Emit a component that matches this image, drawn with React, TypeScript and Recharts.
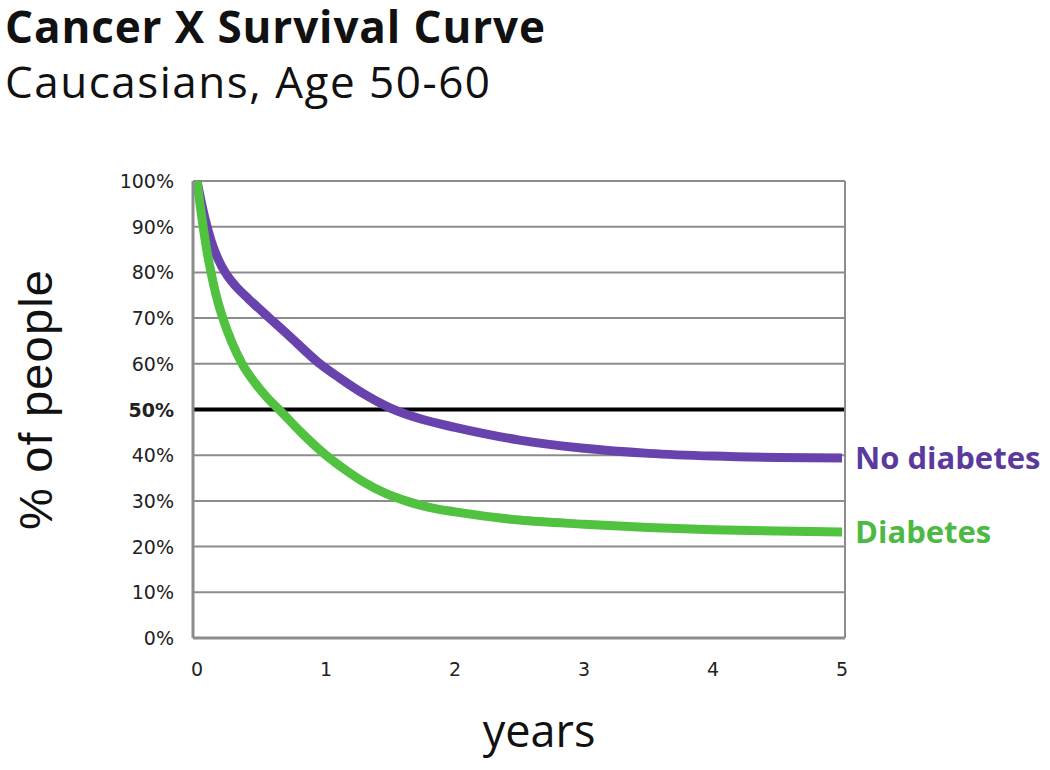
import { LineChart, Line, XAxis, YAxis, CartesianGrid } from 'recharts'

// survival, % of people still alive at t years
const noDiabetesYears = [0, 0.03, 0.06, 0.09, 0.12, 0.15, 0.19, 0.24, 0.3, 0.4, 0.55, 0.7, 0.94, 1.1, 1.3, 1.5, 1.75, 2, 2.5, 3, 3.5, 4, 4.5, 5]
const noDiabetesPct = [100, 95.8, 92, 88.8, 86, 83.8, 81.4, 79.1, 77, 74.2, 70.3, 66.5, 60.3, 57, 53.3, 50.3, 47.8, 46.1, 43.3, 41.5, 40.4, 39.8, 39.5, 39.4]
const diabetesYears = [0, 0.025, 0.05, 0.08, 0.11, 0.15, 0.2, 0.27, 0.35, 0.45, 0.55, 0.65, 0.8, 1, 1.15, 1.3, 1.45, 1.63, 1.8, 2, 2.5, 3, 3.5, 4, 4.5, 5]
const diabetesPct = [100, 94.5, 89.5, 84.2, 79.8, 74.8, 70, 64.7, 60, 55.8, 52.4, 49.6, 45.2, 40, 36.8, 34, 31.8, 29.9, 28.6, 27.6, 25.8, 24.9, 24.2, 23.7, 23.4, 23.2]
const xTicks = [0, 1, 2, 3, 4, 5]
const yTicks = [0, 10, 20, 30, 40, 50, 60, 70, 80, 90, 100]
const HALF = 50

const PURPLE = '#6843ad'
const GREEN = '#51c140'
const PURPLE_TEXT = '#5b3a9e'
const GREEN_TEXT = '#4cb944'

const noDiabetesData = noDiabetesYears.map((t, i) => ({ t, pct: noDiabetesPct[i] }))
const diabetesData = diabetesYears.map((t, i) => ({ t, pct: diabetesPct[i] }))

const YTick = ({ x, y, payload }: any) => (
  <text
    x={x}
    y={y}
    dy={7}
    textAnchor="end"
    fontFamily="DejaVu Sans"
    fontSize={19}
    fontWeight={payload.value === HALF ? 'bold' : 'normal'}
    fill="#222"
  >
    {payload.value}%
  </text>
)

const XTick = ({ x, y, payload }: any) => (
  <text x={x} y={y} dy={18} textAnchor="middle" fontFamily="DejaVu Sans" fontSize={19} fill="#222">
    {payload.value}
  </text>
)

const endLabel = (text: string, color: string, lastIndex: number) => (props: any) => {
  if (props.index !== lastIndex) return null
  return (
    <text x={props.x + 13} y={props.y} dy={11} fontFamily="Open Sans" fontWeight="bold" fontSize={31} fill={color}>
      {text}
    </text>
  )
}

// grid row at 50% is the heavy black line
const gridRow = (p: any) => {
  const isHalf = p.index === yTicks.indexOf(HALF)
  return (
    <line
      key={`row-${p.index}`}
      x1={p.x1}
      y1={p.y1}
      x2={p.x2}
      y2={p.y2}
      stroke={isHalf ? '#000' : '#8c8c8c'}
      strokeWidth={isHalf ? 4 : 2}
    />
  )
}

export default function App() {
  return (
    <div style={{ position: 'absolute', left: 0, top: 0, width: 1050, height: 770, background: '#fff' }}>
      <LineChart width={1050} height={770} margin={{ top: 181, right: 205, bottom: 92, left: 133 }}>
        <CartesianGrid
          stroke="#8c8c8c"
          strokeWidth={2}
          horizontal={gridRow}
          verticalCoordinatesGenerator={({ offset }: any) => [offset.left, offset.left + offset.width]}
        />
        <XAxis
          dataKey="t"
          type="number"
          domain={[0, 5]}
          ticks={xTicks}
          padding={{ left: 4, right: 3 }}
          tick={<XTick />}
          tickLine={false}
          tickSize={0}
          tickMargin={20}
          height={40}
          axisLine={{ stroke: '#8c8c8c', strokeWidth: 3 }}
        />
        <YAxis
          type="number"
          domain={[0, 100]}
          ticks={yTicks}
          tick={<YTick />}
          tickLine={false}
          tickSize={0}
          tickMargin={19}
          width={60}
          axisLine={{ stroke: '#8c8c8c', strokeWidth: 3 }}
        />
        <Line
          data={noDiabetesData}
          type="monotone"
          dataKey="pct"
          stroke={PURPLE}
          strokeWidth={9}
          dot={false}
          isAnimationActive={false}
          label={endLabel('No diabetes', PURPLE_TEXT, noDiabetesData.length - 1)}
        />
        <Line
          data={diabetesData}
          type="monotone"
          dataKey="pct"
          stroke={GREEN}
          strokeWidth={9}
          dot={false}
          isAnimationActive={false}
          label={endLabel('Diabetes', GREEN_TEXT, diabetesData.length - 1)}
        />
      </LineChart>
      <svg width={1050} height={770} style={{ position: 'absolute', left: 0, top: 0, pointerEvents: 'none' }}>
        <text x={5} y={43} fontFamily="Open Sans" fontWeight="bold" fontSize={44} fill="#111" textLength={540} lengthAdjust="spacing">
          Cancer X Survival Curve
        </text>
        <text x={5} y={98} fontFamily="Open Sans" fontSize={44} fill="#111" textLength={485} lengthAdjust="spacing">
          Caucasians, Age 50-60
        </text>
        <text
          x={52}
          y={400}
          transform="rotate(-90 52 400)"
          textAnchor="middle"
          fontFamily="Liberation Sans"
          fontSize={47}
          fill="#111"
          textLength={260}
          lengthAdjust="spacing"
        >
          % of people
        </text>
        <text x={539} y={747} textAnchor="middle" fontFamily="Open Sans" fontSize={45} fill="#111">
          years
        </text>
      </svg>
    </div>
  )
}
